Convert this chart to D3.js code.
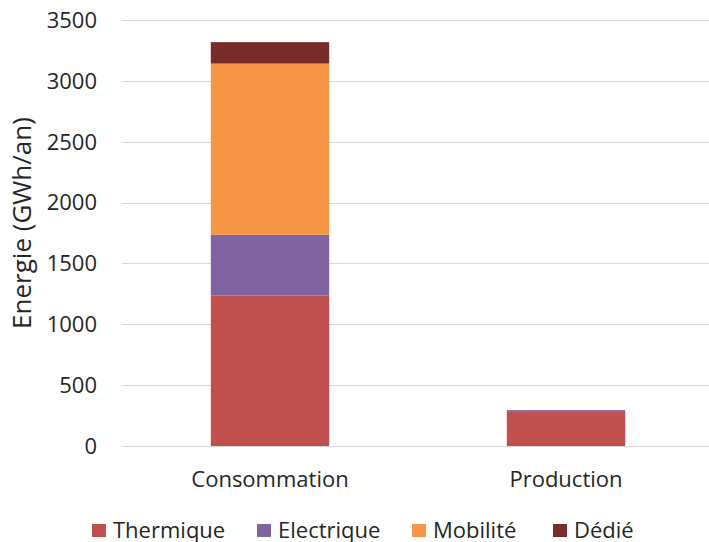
<!DOCTYPE html>
<html>
<head>
<meta charset="utf-8">
<script src="https://cdn.jsdelivr.net/npm/d3@7"></script>
<style>
  body { margin: 0; background: #fff; }
  text { font-family: "Open Sans", "Noto Sans", sans-serif; fill: #262626; }
</style>
</head>
<body>
<div id="chart"></div>
<script>
const categories = ['Consommation', 'Production'];
const seriesNames = ['Thermique', 'Electrique', 'Mobilité', 'Dédié'];
const thermique = [1235, 280];
const electrique = [500, 15];
const mobilite = [1407, 0];
const dedie = [176, 0];
const yTicks = [0, 500, 1000, 1500, 2000, 2500, 3000, 3500];
const colors = ['#c0504d', '#8064a2', '#f79646', '#772c2a'];

const width = 709, height = 542;
const margin = {top: 20, right: -5, bottom: 96, left: 122};

const svg = d3.select('#chart').append('svg')
    .attr('width', width)
    .attr('height', height);

const table = categories.map((c, i) => ({
    cat: c,
    'Thermique': thermique[i],
    'Electrique': electrique[i],
    'Mobilité': mobilite[i],
    'Dédié': dedie[i],
}));
const stacked = d3.stack().keys(seriesNames)(table);

const x = d3.scaleBand()
    .domain(categories)
    .range([margin.left, width - margin.right])
    .paddingInner(0.6)
    .paddingOuter(0.3);

const y = d3.scaleLinear()
    .domain([0, 3500])
    .range([height - margin.bottom, margin.top]);

// gridlines
svg.append('g')
    .selectAll('line')
    .data(yTicks)
    .enter()
    .append('line')
    .attr('x1', margin.left)
    .attr('x2', width)
    .attr('y1', d => Math.round(y(d)) + 0.5)
    .attr('y2', d => Math.round(y(d)) + 0.5)
    .attr('stroke', '#d9d9d9')
    .attr('stroke-width', 1);

// y tick labels
svg.append('g')
    .selectAll('text')
    .data(yTicks)
    .enter()
    .append('text')
    .attr('x', 97)
    .attr('y', d => y(d))
    .attr('dy', '0.36em')
    .attr('text-anchor', 'end')
    .style('font-size', '22px')
    .text(d => d);

// bars
svg.append('g')
    .selectAll('g')
    .data(stacked)
    .enter()
    .append('g')
    .attr('fill', (d, i) => colors[i])
    .selectAll('rect')
    .data(d => d)
    .enter()
    .append('rect')
    .attr('x', d => x(d.data.cat))
    .attr('width', x.bandwidth())
    .attr('y', d => y(d[1]))
    .attr('height', d => y(d[0]) - y(d[1]));

// category labels
svg.append('g')
    .selectAll('text')
    .data(categories)
    .enter()
    .append('text')
    .attr('x', d => x(d) + x.bandwidth() / 2)
    .attr('y', 487)
    .attr('text-anchor', 'middle')
    .style('font-size', '22px')
    .text(d => d);

// y axis title
svg.append('text')
    .attr('transform', 'translate(31,223) rotate(-90)')
    .attr('text-anchor', 'middle')
    .style('font-size', '26px')
    .text('Energie (GWh/an)');

// legend
const legendX = [92, 257, 412, 553];
const legend = svg.append('g')
    .selectAll('g')
    .data(seriesNames)
    .enter()
    .append('g')
    .attr('transform', (d, i) => 'translate(' + legendX[i] + ',538)');
legend.append('rect')
    .attr('x', 0)
    .attr('y', -14)
    .attr('width', 14)
    .attr('height', 13)
    .attr('fill', (d, i) => colors[i]);
legend.append('text')
    .attr('x', 21)
    .attr('y', 0)
    .style('font-size', '22px')
    .text(d => d);
</script>
</body>
</html>
